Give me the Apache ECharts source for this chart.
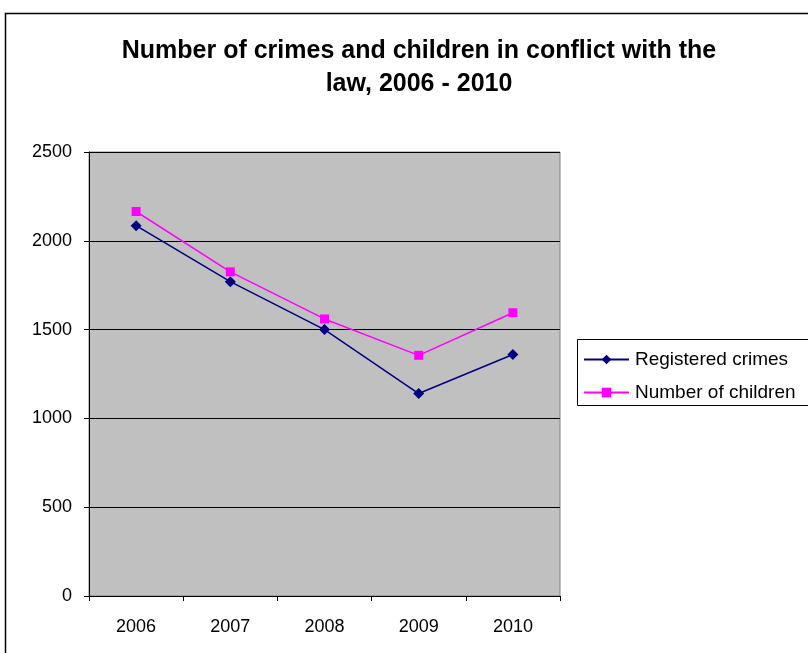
<!DOCTYPE html>
<html><head><meta charset="utf-8">
<script src="https://cdn.jsdelivr.net/npm/echarts@6/dist/echarts.min.js"></script>
<style>html,body{margin:0;padding:0;background:#fff}#c{width:808px;height:653px}</style>
</head><body><div id="c"></div>
<script>
var titleText = 'Number of crimes and children in conflict with the\nlaw, 2006 - 2010';
var years = ['2006', '2007', '2008', '2009', '2010'];
var registeredCrimes = [2085, 1770, 1500, 1140, 1360];
var numberOfChildren = [2165, 1825, 1560, 1355, 1595];
var seriesNames = ['Registered crimes', 'Number of children'];

var chart = echarts.init(document.getElementById('c'), null, {renderer: 'canvas'});
var font = 'Liberation Sans, Arial, sans-serif';
chart.setOption({
  backgroundColor: '#ffffff',
  animation: false,
  title: {
    text: titleText, left: 414, textAlign: 'center', top: 30,
    textStyle: {fontFamily: font, fontWeight: 'bold', fontSize: 25, color: '#000', lineHeight: 33}
  },
  graphic: [
    {type: 'rect', shape: {x: 5.5, y: 13.5, width: 900, height: 700}, style: {fill: 'none', stroke: '#000', lineWidth: 1.5}, z: -1},
    {type: 'rect', shape: {x: 577.5, y: 339.5, width: 300, height: 66}, style: {fill: '#fff', stroke: '#000', lineWidth: 1}, z: 0}
  ],
  legend: {
    orient: 'vertical', left: 578, top: 345,
    itemWidth: 45, itemHeight: 12, itemGap: 14,
    textStyle: {fontFamily: font, fontSize: 19, color: '#000', padding: [0,0,0,1]},
    data: seriesNames, z: 5
  },
  grid: {
    left: 89, top: 152, width: 471, height: 444,
    show: true, backgroundColor: '#c0c0c0', borderColor: '#808080', borderWidth: 1
  },
  xAxis: {
    type: 'category', data: years, boundaryGap: true,
    axisLine: {lineStyle: {color: '#000', width: 1}},
    axisTick: {show: true, length: 5, lineStyle: {color: '#000'}},
    axisLabel: {fontFamily: font, fontSize: 18, color: '#000', margin: 22}
  },
  yAxis: {
    type: 'value', min: 0, max: 2500, interval: 500,
    axisLine: {show: true, lineStyle: {color: '#000', width: 1}},
    axisTick: {show: true, length: 5, lineStyle: {color: '#000'}},
    axisLabel: {fontFamily: font, fontSize: 18, color: '#000', margin: 17, formatter: function (v) { return String(v); }},
    splitLine: {show: true, lineStyle: {color: '#000', width: 1}}
  },
  series: [
    {name: seriesNames[0], type: 'line', data: registeredCrimes, symbol: 'diamond', symbolSize: 11,
     itemStyle: {color: '#000080'}, lineStyle: {color: '#000080', width: 1.5}},
    {name: seriesNames[1], type: 'line', data: numberOfChildren, symbol: 'rect', symbolSize: 9,
     itemStyle: {color: '#ff00ff'}, lineStyle: {color: '#ff00ff', width: 1.5}}
  ]
});
</script></body></html>
